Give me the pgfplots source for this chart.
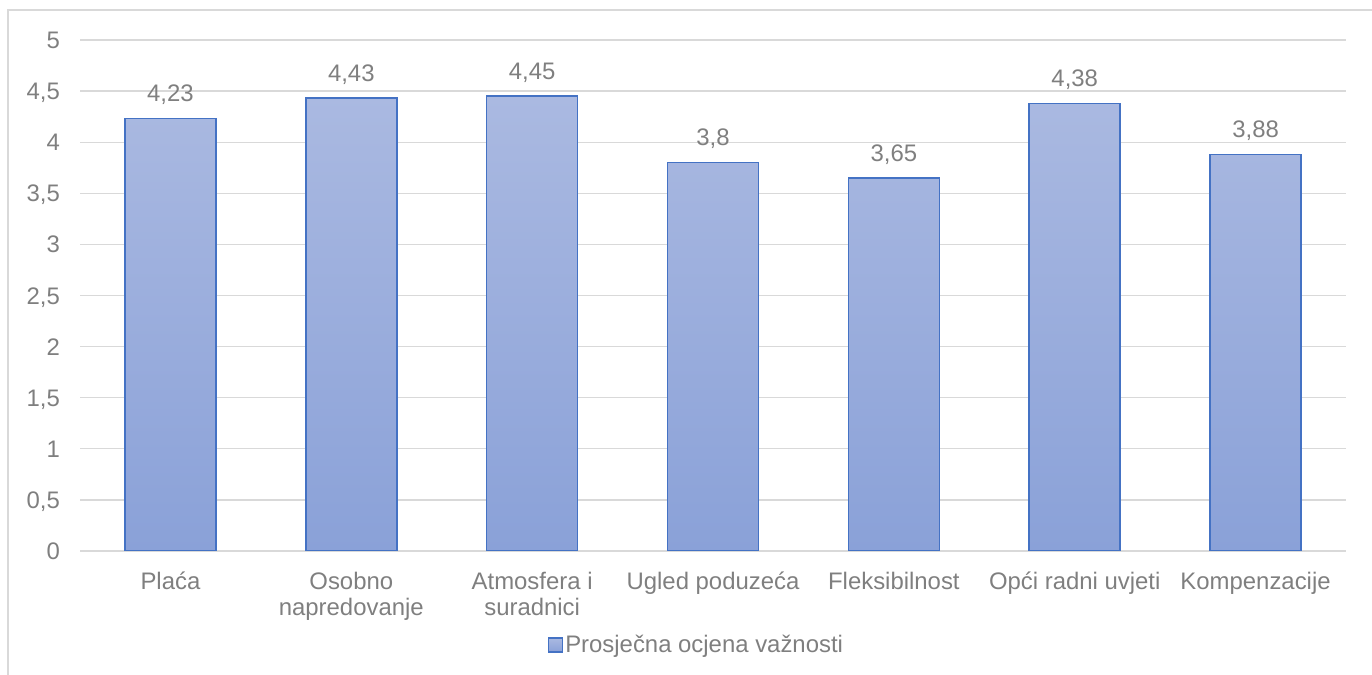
\documentclass[border=0pt]{standalone}
\usepackage{pgfplots}
\pgfplotsset{compat=1.18}
\usepackage{fontspec}
\setmainfont{Liberation Sans}
\definecolor{txt}{HTML}{7F7F7F}
\definecolor{gridc}{HTML}{D9D9D9}
\definecolor{barline}{HTML}{4472C4}
\definecolor{bartop}{HTML}{AAB9E1}
\definecolor{barbot}{HTML}{8AA1D8}
\pgfplotsset{sqlegend/.style={legend image code/.code={\draw[##1, line width=1.2bp] (0bp,-7bp) rectangle (14bp,7bp);}}}
\begin{document}
\begin{tikzpicture}[x=1bp,y=1bp]
\useasboundingbox (0,0) rectangle (1372,675);
\draw[gridc, line width=1.5bp] (8,0) -- (8,665) -- (1372,665);
\begin{axis}[
  at={(80bp,124bp)}, anchor=south west,
  scale only axis, width=1266bp, height=511bp,
  ybar, bar width=91bp,
  xmin=-0.5, xmax=6.5, ymin=0, ymax=5,
  ytick={0,0.5,1,1.5,2,2.5,3,3.5,4,4.5,5},
  xtick={0,1,2,3,4,5,6},
  xticklabels={Plaća,{Osobno\\napredovanje},{Atmosfera i\\suradnici},Ugled poduzeća,Fleksibilnost,Opći radni uvjeti,Kompenzacije},
  font=\fontsize{24}{26}\selectfont,
  /pgf/number format/assume math mode=true,
  /pgf/number format/use comma,
  axis line style={draw=none},
  major tick length=0pt,
  ymajorgrids, major grid style={gridc, line width=1.3bp},
  tick label style={text=txt},
  xticklabel style={inner sep=0pt, yshift=-21bp, align=center},
  yticklabel style={anchor=base east, inner sep=0pt, xshift=-20bp, yshift=-8.6bp},
  nodes near coords,
  nodes near coords style={anchor=base, inner sep=0pt, yshift=16.7bp, text=txt},
  legend style={at={(axis description cs:0.487,-0.184)}, anchor=center, draw=none, fill=none, text=txt,
    font=\fontsize{24}{26}\selectfont},
]
\addplot[draw=barline, line width=1.5bp, top color=bartop, bottom color=barbot, sqlegend]
  coordinates {(0,4.23) (1,4.43) (2,4.45) (3,3.8) (4,3.65) (5,4.38) (6,3.88)};
\addlegendentry{Prosječna ocjena važnosti}
\end{axis}
\end{tikzpicture}
\end{document}
